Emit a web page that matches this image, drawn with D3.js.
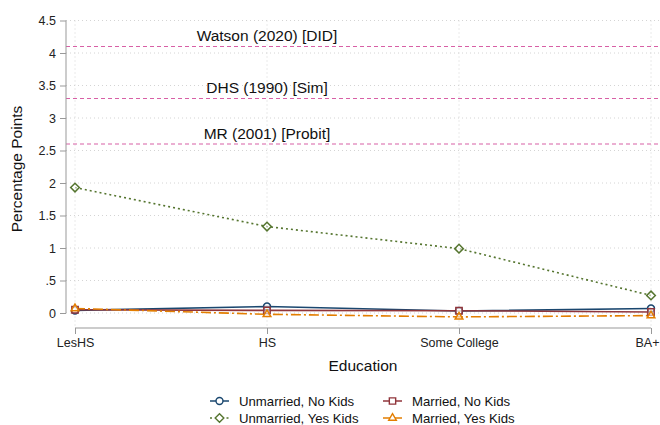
<!DOCTYPE html>
<html>
<head>
<meta charset="utf-8">
<script src="https://cdn.jsdelivr.net/npm/d3@7"></script>
<style>
  html, body { margin: 0; padding: 0; background: #fff; }
  svg { display: block; font-family: "Liberation Sans", Arial, Helvetica, sans-serif; }
</style>
</head>
<body>
<svg id="chart" width="660" height="425"></svg>
<script>
// Education categories on the x axis
const categories = ["LesHS", "HS", "Some College", "BA+"];

// Estimated effects (percentage points) by household type
const unmarriedNoKids  = [0.04, 0.10, 0.03, 0.07];
const unmarriedYesKids = [1.93, 1.33, 0.99, 0.27];
const marriedNoKids    = [0.05, 0.04, 0.035, 0.015];
const marriedYesKids   = [0.07, -0.02, -0.06, -0.04];

// Benchmark estimates from the literature
const refLabels = ["Watson (2020) [DID]", "DHS (1990) [Sim]", "MR (2001) [Probit]"];
const refValues = [4.1, 3.3, 2.6];

// Y axis ticks
const yTicks = [0, 0.5, 1, 1.5, 2, 2.5, 3, 3.5, 4, 4.5];

const series = [
  { name: "Unmarried, No Kids",  values: unmarriedNoKids,  color: "#1a476f", dash: null,      marker: "circle"   },
  { name: "Married, No Kids",    values: marriedNoKids,    color: "#90353b", dash: null,      marker: "square"   },
  { name: "Unmarried, Yes Kids", values: unmarriedYesKids, color: "#55752f", dash: "2,3",     marker: "diamond"  },
  { name: "Married, Yes Kids",   values: marriedYesKids,   color: "#e37e00", dash: "10,3,2,3", marker: "triangle" }
];

const svg = d3.select("#chart");
const W = 660;

const x = d3.scalePoint().domain(categories).range([75, 651]);
const y = d3.scaleLinear().domain([0, 4.5]).range([313, 20.5]);

const axisX = 66;
const plotRight = W;

// Grid lines
const grid = svg.append("g");
grid.selectAll("line.h").data(yTicks).join("line")
  .attr("x1", axisX).attr("x2", plotRight)
  .attr("y1", d => y(d)).attr("y2", d => y(d))
  .attr("stroke", "#d4d4d4").attr("stroke-width", 1).attr("stroke-dasharray", "1,3");
grid.selectAll("line.v").data(categories).join("line")
  .attr("x1", d => x(d)).attr("x2", d => x(d))
  .attr("y1", y(4.5)).attr("y2", 328)
  .attr("stroke", "#d4d4d4").attr("stroke-width", 1).attr("stroke-dasharray", "1,3");

// Benchmark lines
const refs = svg.append("g");
refs.selectAll("line").data(refValues).join("line")
  .attr("x1", axisX).attr("x2", plotRight)
  .attr("y1", d => y(d)).attr("y2", d => y(d))
  .attr("stroke", "#d860a6").attr("stroke-width", 1.1).attr("stroke-dasharray", "4,3");
refs.selectAll("text").data(refLabels).join("text")
  .attr("x", x("HS"))
  .attr("y", (d, i) => y(refValues[i]) - 5.5)
  .attr("text-anchor", "middle")
  .attr("font-size", 15.5)
  .attr("fill", "#111")
  .text(d => d);

// Y axis
const fmt = d => d === 0 ? "0" : String(d).replace(/^0/, "");
const gy = svg.append("g").attr("transform", `translate(${axisX},0)`)
  .call(d3.axisLeft(y).tickValues(yTicks).tickFormat(fmt).tickSize(6).tickPadding(4));
gy.select(".domain").attr("stroke", "#999").attr("d", `M0,${y(4.5)}V${y(0)}`);
gy.selectAll(".tick line").attr("stroke", "#999");
gy.selectAll(".tick text").attr("font-size", 12.5).attr("fill", "#222")
  .attr("font-family", "Liberation Sans, Arial, sans-serif");

// X axis
const gx = svg.append("g").attr("transform", "translate(0,328)")
  .call(d3.axisBottom(x).tickSize(6).tickPadding(4));
gx.select(".domain").attr("stroke", "#999").attr("d", `M${x("LesHS")},0H${x("BA+")}`);
gx.selectAll(".tick line").attr("stroke", "#999");
gx.selectAll(".tick text").attr("font-size", 12.5).attr("fill", "#222")
  .attr("font-family", "Liberation Sans, Arial, sans-serif")
  // keep the last label inside the canvas
  .attr("dx", d => d === "BA+" ? -4 : 0);

// Axis titles
svg.append("text")
  .attr("transform", "translate(22,169) rotate(-90)")
  .attr("text-anchor", "middle").attr("font-size", 15.5).attr("fill", "#111")
  .text("Percentage Points");
svg.append("text")
  .attr("x", 363).attr("y", 371)
  .attr("text-anchor", "middle").attr("font-size", 15.5).attr("fill", "#111")
  .text("Education");

// Marker shapes
const symbolFor = {
  circle:   d3.symbol().type(d3.symbolCircle).size(38),
  square:   d3.symbol().type(d3.symbolSquare).size(40),
  diamond:  d3.symbol().type(d3.symbolDiamond2).size(48),
  triangle: d3.symbol().type(d3.symbolTriangle2).size(42)
};

const line = d3.line().x((d, i) => x(categories[i])).y(d => y(d));

// Series lines, drawn so the dashed ones sit on top
const order = [2, 0, 1, 3];
const lines = svg.append("g");
order.forEach(k => {
  const s = series[k];
  lines.append("path")
    .datum(s.values)
    .attr("d", line)
    .attr("fill", "none")
    .attr("stroke", s.color)
    .attr("stroke-width", 1.6)
    .attr("stroke-dasharray", s.dash);
});
order.forEach(k => {
  const s = series[k];
  lines.append("g").selectAll("path").data(s.values).join("path")
    .attr("transform", (d, i) => `translate(${x(categories[i])},${y(d)})`)
    .attr("d", symbolFor[s.marker]())
    .attr("fill", "#fff").attr("fill-opacity", 0.55)
    .attr("stroke", s.color).attr("stroke-width", 1.5);
});

// Legend, two columns
const legendPos = [
  { x: 210, y: 401 }, { x: 383, y: 401 },
  { x: 210, y: 418 }, { x: 383, y: 418 }
];
const legend = svg.append("g");
series.forEach((s, i) => {
  const p = legendPos[i];
  const g = legend.append("g").attr("transform", `translate(${p.x},${p.y})`);
  g.append("line").attr("x1", 0).attr("x2", 19).attr("y1", 0).attr("y2", 0)
    .attr("stroke", s.color).attr("stroke-width", 1.5)
    .attr("stroke-dasharray", s.dash === "2,3" ? "2,3.5" : null);
  g.append("path").attr("transform", "translate(9.5,0)")
    .attr("d", symbolFor[s.marker]())
    .attr("fill", "#fff").attr("stroke", s.color).attr("stroke-width", 1.4);
  g.append("text").attr("x", 29).attr("y", 4.5).attr("font-size", 13.2).attr("fill", "#111")
    .text(s.name);
});
</script>
</body>
</html>
